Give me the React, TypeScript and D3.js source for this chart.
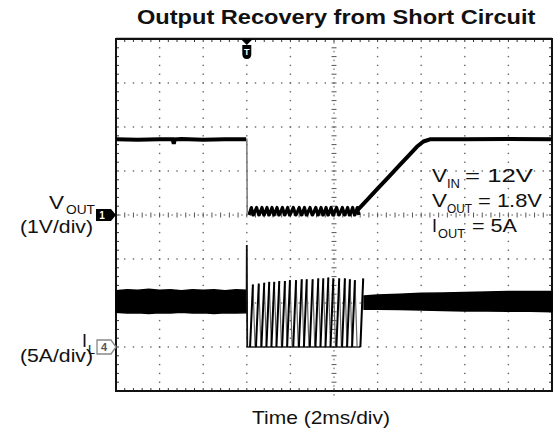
import React from "react";
import * as d3 from "d3";

// ---- data (time in ms, volts, amps) ----
const timeDomain = [0, 20];
const voutTimes = [0, 1, 2, 2.6, 2.65, 2.7, 3, 4, 5, 5.97];
const voutValues = [1.72, 1.71, 1.72, 1.72, 1.62, 1.72, 1.73, 1.71, 1.72, 1.72];
const voutRampTimes = [10.96, 11.5, 12, 12.5, 13, 13.5, 13.8, 14.1, 14.4, 16, 18, 20];
const voutRampValues = [0.05, 0.33, 0.6, 0.86, 1.13, 1.39, 1.55, 1.67, 1.72, 1.72, 1.73, 1.72];
const voutToothTimes = [6.1, 6.3, 6.57, 6.8, 7.03, 7.26, 7.49, 7.75, 7.98, 8.26, 8.52, 8.75, 9.02, 9.28, 9.51, 9.74, 9.97, 10.24, 10.5, 10.73, 10.96];
const voutToothLow = 0.0;
const voutToothHigh = 0.17;

const ilPreTimes = [0, 0.5, 1, 1.5, 2, 2.5, 3, 3.5, 4, 4.5, 5, 5.5, 5.98];
const ilPreUpper = [6.4, 6.5, 6.45, 6.55, 6.45, 6.5, 6.4, 6.5, 6.45, 6.5, 6.4, 6.5, 6.45];
const ilPreLower = [3.95, 3.85, 3.9, 3.8, 3.9, 3.85, 3.95, 3.85, 3.9, 3.8, 3.9, 3.85, 3.9];
const ilPostTimes = [11.38, 12, 13, 14, 15, 16, 17, 18, 19, 20];
const ilPostUpper = [5.8, 5.9, 6.0, 6.1, 6.15, 6.2, 6.25, 6.3, 6.3, 6.3];
const ilPostLower = [4.3, 4.3, 4.25, 4.2, 4.15, 4.1, 4.1, 4.05, 4.05, 4.0];
const ilSpike = { time: 6.0, peak: 11.6, base: 5.2 };
const ilPulseTimes = [6.28, 6.55, 6.8, 7.03, 7.26, 7.49, 7.75, 7.98, 8.26, 8.52, 8.75, 9.02, 9.28, 9.51, 9.74, 9.97, 10.24, 10.5, 10.73, 10.96, 11.34];
const ilPulsePeaks = [7.1, 7.2, 7.3, 7.4, 7.4, 7.5, 7.5, 7.6, 7.6, 7.7, 7.7, 7.7, 7.8, 7.8, 7.9, 7.8, 7.8, 7.8, 7.7, 7.6, 7.8];

const W = 553, H = 435;
const L = 116, R = 552, T = 39, B = 391;
const NX = 10, NY = 8;

export default function App() {
  const x = d3.scaleLinear().domain(timeDomain).range([L, R]);
  const yV = d3.scaleLinear().domain([-4, 4]).range([B, T]); // 1V/div, ground at div 4
  const yI = d3.scaleLinear().domain([-5, 35]).range([B, T]); // 5A/div, ground at div 1
  const gx = d3.scaleLinear().domain([0, NX]).range([L, R]);
  const gy = d3.scaleLinear().domain([0, NY]).range([T, B]);

  const line = d3.line<[number, number]>();

  const vPre: [number, number][] = voutTimes.map((t, i) => [x(t), yV(voutValues[i])]);
  const vDrop: [number, number][] = [[x(5.97), yV(1.72)], [x(6.0), yV(1.72)], [x(6.02), yV(0.05)]];
  const vTeeth: [number, number][] = [];
  voutToothTimes.forEach((t, i) => {
    const next = i < voutToothTimes.length - 1 ? voutToothTimes[i + 1] : t + 0.2;
    vTeeth.push([x(t), yV(voutToothLow)]);
    vTeeth.push([x(t + (next - t) * 0.55), yV(voutToothHigh)]);
    vTeeth.push([x(next - 0.02), yV(voutToothLow)]);
  });
  const vRamp: [number, number][] = voutRampTimes.map((t, i) => [x(t), yV(voutRampValues[i])]);

  const bandPath = (times: number[], up: number[], lo: number[]) =>
    d3.area<number>()
      .x((_, i) => x(times[i]))
      .y0((_, i) => yI(lo[i]))
      .y1((_, i) => yI(up[i]))(times) as string;

  const rises: string[] = [];
  const falls: string[] = [];
  ilPulseTimes.forEach((t, i) => {
    const p = ilPulsePeaks[i];
    rises.push(line([[x(t - 0.13), yI(0)], [x(t), yI(p)]]) as string);
    if (i < ilPulseTimes.length - 1) falls.push(line([[x(t), yI(p)], [x(t + 0.1), yI(0)]]) as string);
  });
  const baseLine = line([[x(6.02), yI(0)], [x(11.2), yI(0)]]) as string;
  const spike = line([[x(ilSpike.time - 0.01), yI(ilSpike.base)], [x(ilSpike.time), yI(ilSpike.peak)], [x(ilSpike.time + 0.02), yI(0)]]) as string;

  const grid: JSX.Element[] = [];
  for (let i = 1; i < NX; i++) {
    if (i === 5) continue;
    for (let k = 0; k <= NY * 5; k++) {
      grid.push(<rect key={`v${i}-${k}`} x={gx(i) - 0.7} y={gy(k / 5) - 0.7} width={1.4} height={1.4} fill="#666" />);
    }
  }
  for (let j = 1; j < NY; j++) {
    if (j === 4) continue;
    for (let k = 0; k <= NX * 5; k++) {
      grid.push(<rect key={`h${j}-${k}`} x={gx(k / 5) - 0.7} y={gy(j) - 0.7} width={1.4} height={1.4} fill="#666" />);
    }
  }
  for (let k = 0; k <= NX * 5; k++) {
    const xx = gx(k / 5);
    grid.push(<line key={`cx${k}`} x1={xx} x2={xx} y1={gy(4) - 2.5} y2={gy(4) + 2.5} stroke="#555" strokeWidth={1} />);
    grid.push(<rect key={`cxd${k}`} x={xx + 3} y={gy(4) - 0.6} width={1.6} height={1.2} fill="#777" />);
  }
  for (let k = 0; k <= NY * 5; k++) {
    const yy = gy(k / 5);
    grid.push(<line key={`cy${k}`} x1={gx(5) - 2.5} x2={gx(5) + 2.5} y1={yy} y2={yy} stroke="#555" strokeWidth={1} />);
    grid.push(<rect key={`cyd${k}`} x={gx(5) - 0.6} y={yy + 3} width={1.2} height={1.6} fill="#777" />);
  }
  for (let k = 1; k < NX * 5; k++) {
    const xx = gx(k / 5);
    grid.push(<line key={`bt${k}`} x1={xx} x2={xx} y1={T} y2={T + 3} stroke="#333" strokeWidth={1} />);
    grid.push(<line key={`bb${k}`} x1={xx} x2={xx} y1={B} y2={B - 3} stroke="#333" strokeWidth={1} />);
  }
  for (let k = 1; k < NY * 5; k++) {
    const yy = gy(k / 5);
    grid.push(<line key={`bl${k}`} x1={L} x2={L + 3} y1={yy} y2={yy} stroke="#333" strokeWidth={1} />);
    grid.push(<line key={`br${k}`} x1={R} x2={R - 3} y1={yy} y2={yy} stroke="#333" strokeWidth={1} />);
  }

  const font = "'Liberation Sans', Arial, sans-serif";
  const trigX = x(6);
  const ch1Y = yV(0);
  const ch4Y = yI(0);

  return (
    <svg width={W} height={H} style={{ position: "absolute", left: 0, top: 0, background: "#fff" }} fontFamily={font}>
      <rect x={0} y={0} width={W} height={H} fill="#fff" />
      <g transform="translate(137,24) scale(1.18,1)">
        <text x={0} y={0} fontSize={20} fontWeight="bold" fill="#111">Output Recovery from Short Circuit</text>
      </g>

      {grid}
      <rect x={L} y={T} width={R - L} height={B - T} fill="none" stroke="#111" strokeWidth={2} />
      <line x1={L} x2={R} y1={T - 0.5} y2={T - 0.5} stroke="#111" strokeWidth={1.5} />

      <path d={line(vPre) as string} fill="none" stroke="#000" strokeWidth={4} />
      <path d={line(vDrop) as string} fill="none" stroke="#777" strokeWidth={1.5} />
      <path d={line(vTeeth) as string} fill="none" stroke="#000" strokeWidth={3.2} strokeLinejoin="round" />
      <path d={line(vRamp) as string} fill="none" stroke="#000" strokeWidth={4} strokeLinejoin="round" />

      <path d={bandPath(ilPreTimes, ilPreUpper, ilPreLower)} fill="#000" stroke="#000" strokeWidth={1.5} />
      <path d={bandPath(ilPostTimes, ilPostUpper, ilPostLower)} fill="#000" stroke="#000" strokeWidth={1.5} />
      <path d={baseLine} fill="none" stroke="#222" strokeWidth={1.5} />
      {falls.map((d, i) => <path key={`f${i}`} d={d} fill="none" stroke="#666" strokeWidth={1.2} />)}
      {rises.map((d, i) => <path key={`r${i}`} d={d} fill="none" stroke="#000" strokeWidth={2} />)}
      <path d={spike} fill="none" stroke="#111" strokeWidth={1.8} />

      <path d={`M${trigX - 6},${T} L${trigX + 6},${T} L${trigX},${T + 6} Z`} fill="#000" />
      <path d={`M${trigX - 4.5},${T + 6} L${trigX + 4.5},${T + 6} L${trigX + 4.5},${T + 15} Q${trigX + 4.5},${T + 20} ${trigX},${T + 20} Q${trigX - 4.5},${T + 20} ${trigX - 4.5},${T + 15} Z`} fill="#000" />
      <text x={trigX} y={T + 16} fontSize={9} fontWeight="bold" fill="#fff" textAnchor="middle">T</text>

      <path d={`M96,${ch1Y - 6} L111,${ch1Y - 6} L116,${ch1Y} L111,${ch1Y + 6} L96,${ch1Y + 6} Z`} fill="#000" />
      <text x={102} y={ch1Y + 4} fontSize={10} fontWeight="bold" fill="#fff" textAnchor="middle">1</text>
      <path d={`M97,${ch4Y - 7} L111,${ch4Y - 7} L116,${ch4Y} L111,${ch4Y + 7} L97,${ch4Y + 7} Z`} fill="#fff" stroke="#888" strokeWidth={1.3} />
      <text x={104} y={ch4Y + 4} fontSize={11} fontWeight="bold" fill="#555" textAnchor="middle">4</text>

      <text x={49} y={209} fontSize={19} textLength={15} lengthAdjust="spacingAndGlyphs" fill="#111">V</text>
      <text x={66} y={214} fontSize={12} textLength={29} lengthAdjust="spacingAndGlyphs" fill="#111">OUT</text>
      <text x={20} y={233} fontSize={18.5} textLength={73} lengthAdjust="spacingAndGlyphs" fill="#111">(1V/div)</text>
      <text x={82} y={347} fontSize={19} textLength={5} lengthAdjust="spacingAndGlyphs" fill="#111">I</text>
      <text x={88} y={354} fontSize={12} textLength={7} lengthAdjust="spacingAndGlyphs" fill="#111">L</text>
      <text x={20} y={362} fontSize={18.5} textLength={73} lengthAdjust="spacingAndGlyphs" fill="#111">(5A/div)</text>

      <text x={432} y={182} fontSize={19} textLength={15} lengthAdjust="spacingAndGlyphs" fill="#111">V</text>
      <text x={447} y={188} fontSize={12} textLength={13} lengthAdjust="spacingAndGlyphs" fill="#111">IN</text>
      <text x={465} y={182} fontSize={19} textLength={68} lengthAdjust="spacingAndGlyphs" fill="#111">= 12V</text>
      <text x={432} y={207} fontSize={19} textLength={15} lengthAdjust="spacingAndGlyphs" fill="#111">V</text>
      <text x={447} y={213} fontSize={12} textLength={25} lengthAdjust="spacingAndGlyphs" fill="#111">OUT</text>
      <text x={478} y={207} fontSize={19} textLength={64} lengthAdjust="spacingAndGlyphs" fill="#111">= 1.8V</text>
      <text x={432} y={232} fontSize={19} textLength={5} lengthAdjust="spacingAndGlyphs" fill="#111">I</text>
      <text x={438} y={238} fontSize={12} textLength={27} lengthAdjust="spacingAndGlyphs" fill="#111">OUT</text>
      <text x={472} y={232} fontSize={19} textLength={45} lengthAdjust="spacingAndGlyphs" fill="#111">= 5A</text>

      <text x={252} y={424} fontSize={18.5} textLength={138} lengthAdjust="spacingAndGlyphs" fill="#111">Time (2ms/div)</text>
    </svg>
  );
}
